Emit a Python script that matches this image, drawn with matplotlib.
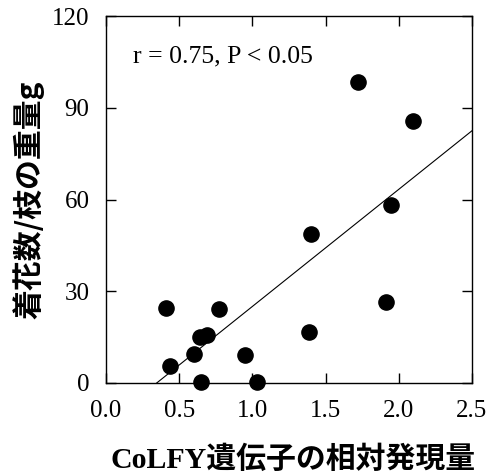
import numpy as np
import matplotlib.pyplot as plt

# CoLFY relative expression vs flowers per branch weight
expr = [0.41, 0.44, 0.60, 0.64, 0.69, 0.65, 0.77, 0.95, 1.03, 1.39, 1.40, 1.72, 1.91, 1.95, 2.10]
flowers = [24.5, 5.7, 9.5, 15.0, 15.6, 0.3, 24.3, 9.3, 0.2, 16.8, 48.8, 98.4, 26.5, 58.2, 85.6]

xticks = [0.0, 0.5, 1.0, 1.5, 2.0, 2.5]
yticks = [0, 30, 60, 90, 120]

serif_jp = ['Liberation Serif', 'Noto Sans CJK JP']

fig = plt.figure(figsize=(4.91, 4.74), dpi=100)
ax = fig.add_axes([0.216, 0.192, 0.745, 0.774])

ax.scatter(expr, flowers, s=120, color='black', zorder=3, clip_on=False)

# regression line
slope, icpt = np.polyfit(expr, flowers, 1)
x0 = -icpt / slope
xl = np.array([x0, 2.5])
ax.plot(xl, slope * xl + icpt, color='black', lw=0.8)

ax.set_xlim(0, 2.5)
ax.set_ylim(0, 120)
ax.set_xticks(xticks)
ax.set_xticklabels([f"{t:.1f}" for t in xticks])
ax.set_yticks(yticks)
ax.tick_params(direction='in', length=7, width=1, top=True, right=True,
               labelsize=18)
ax.tick_params(axis='x', pad=12)
ax.tick_params(axis='y', pad=12)
for lab in ax.get_xticklabels() + ax.get_yticklabels():
    lab.set_family('Liberation Serif')
for sp in ax.spines.values():
    sp.set_linewidth(1)

ax.text(0.073, 0.89, "r = 0.75, P < 0.05", transform=ax.transAxes,
        fontsize=18.5, family='Liberation Serif', va='center')

ax.set_xlabel("CoLFY遺伝子の相対発現量", family=serif_jp, fontsize=21.5,
              fontweight='bold', labelpad=17, x=0.51)
ax.set_ylabel("着花数/枝の重量g", family=['Noto Sans CJK JP', 'Liberation Serif'],
              fontsize=21.5, fontweight='bold', labelpad=5)

fig.savefig("out.png", dpi=100)
